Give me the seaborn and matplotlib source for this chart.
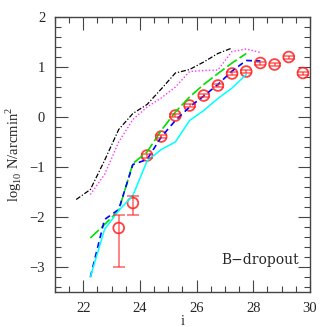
import numpy as np
import pandas as pd
import matplotlib
matplotlib.use("Agg")
import matplotlib.pyplot as plt
import seaborn as sns
from matplotlib.ticker import MultipleLocator

sns.set_style("ticks")
plt.rcParams['font.family'] = ['Liberation Serif', 'DejaVu Serif']
plt.rcParams['mathtext.fontset'] = 'custom'
plt.rcParams['mathtext.rm'] = 'Liberation Serif'

# observed counts (red circles)
obs_x = [23.25, 23.75, 24.25, 24.75, 25.25, 25.75, 26.25, 26.75, 27.25, 27.75, 28.25, 28.75, 29.25, 29.75]
obs_y = [-2.22, -1.72, -0.77, -0.39, 0.03, 0.23, 0.43, 0.63, 0.87, 0.91, 1.08, 1.05, 1.20, 0.88]
obs_err_lo = [0.78, 0.23, 0.04, 0.03, 0.03, 0.03, 0.03, 0.03, 0.03, 0.03, 0.03, 0.03, 0.03, 0.03]
obs_err_hi = [0.27, 0.15, 0.04, 0.03, 0.03, 0.03, 0.03, 0.03, 0.03, 0.03, 0.03, 0.03, 0.03, 0.03]

# model curves
black_x = [21.75, 22.25, 22.75, 23.25, 23.75, 24.25, 24.75, 25.25, 25.75, 26.25, 26.75, 27.25]
black_y = [-1.65, -1.45, -0.87, -0.25, 0.07, 0.25, 0.56, 0.88, 0.95, 1.10, 1.27, 1.38]

magenta_x = [22.25, 22.75, 23.25, 23.75, 24.25, 24.75, 25.25, 25.75, 26.25, 26.75, 27.25, 27.75, 28.25]
magenta_y = [-1.55, -1.15, -0.50, -0.05, 0.20, 0.38, 0.60, 0.91, 0.93, 0.94, 1.31, 1.36, 1.29]

green_x = [22.25, 22.75, 23.25, 23.75, 24.25, 24.75, 25.25, 25.75, 26.25, 26.75, 27.25, 27.75]
green_y = [-2.42, -2.15, -1.87, -0.93, -0.70, -0.27, 0.10, 0.40, 0.65, 0.87, 1.08, 1.27]

blue_x = [22.25, 22.75, 23.25, 23.75, 24.25, 24.75, 25.25, 25.75, 26.25, 26.75, 27.25, 27.75, 28.25]
blue_y = [-3.20, -2.05, -1.85, -0.95, -0.85, -0.40, -0.07, 0.20, 0.42, 0.65, 0.92, 1.13, 1.12]

cyan_x = [22.25, 22.75, 23.25, 23.75, 24.25, 24.75, 25.25, 25.75, 26.25, 26.75, 27.25, 27.75]
cyan_y = [-3.20, -2.25, -1.87, -1.57, -0.88, -0.65, -0.50, -0.07, 0.13, 0.37, 0.58, 0.85]

fig = plt.figure(figsize=(3.27, 3.27), dpi=100)
ax = fig.add_axes([0.168, 0.107, 0.78, 0.841])

sns.lineplot(x=black_x, y=black_y, ax=ax, color='black', lw=0.9,
             linestyle=(0, (4, 1.5, 1, 1.5)))
sns.lineplot(x=magenta_x, y=magenta_y, ax=ax, color='#ff33ff', lw=1.0, linestyle=(0, (1, 1.5)))
sns.lineplot(x=green_x, y=green_y, ax=ax, color='#00e000', lw=1.2, linestyle=(0, (7, 2)))
sns.lineplot(x=blue_x, y=blue_y, ax=ax, color='#0000ff', lw=1.2, linestyle=(0, (3.5, 2.5)))
sns.lineplot(x=cyan_x, y=cyan_y, ax=ax, color='#00ffff', lw=1.1)

red = '#ff2020'
ax.errorbar(obs_x, obs_y, yerr=[obs_err_lo, obs_err_hi], fmt='none', ecolor=red,
            elinewidth=1.1, capsize=4, capthick=1.1, alpha=0.7)
sns.scatterplot(x=obs_x, y=obs_y, ax=ax, marker='o', s=60, facecolor='none',
                edgecolor=red, linewidth=1.3, alpha=0.85)

ax.set_xlim(21, 30)
ax.set_ylim(-3.5, 2)
ax.xaxis.set_major_locator(MultipleLocator(2))
ax.xaxis.set_minor_locator(MultipleLocator(0.5))
ax.yaxis.set_major_locator(MultipleLocator(1))
ax.yaxis.set_minor_locator(MultipleLocator(0.2))
ax.tick_params(which='both', direction='in', top=True, right=True, width=0.8, color='#444444')
ax.tick_params(which='major', length=9, labelsize=10.5, pad=7)
ax.tick_params(which='minor', length=4.5)
for s in ax.spines.values():
    s.set_linewidth(1.0)
    s.set_color('#444444')

ax.set_xlabel('i', fontsize=10.5, labelpad=0)
ax.set_ylabel(r'log$_{10}$ N/arcmin$^2$', fontsize=10.5, labelpad=4)
ax.text(29.6, -2.85, 'B\u2212dropout', ha='right', va='center', fontsize=10,
        family=['DejaVu Serif'])

fig.savefig('out.png', dpi=100)
